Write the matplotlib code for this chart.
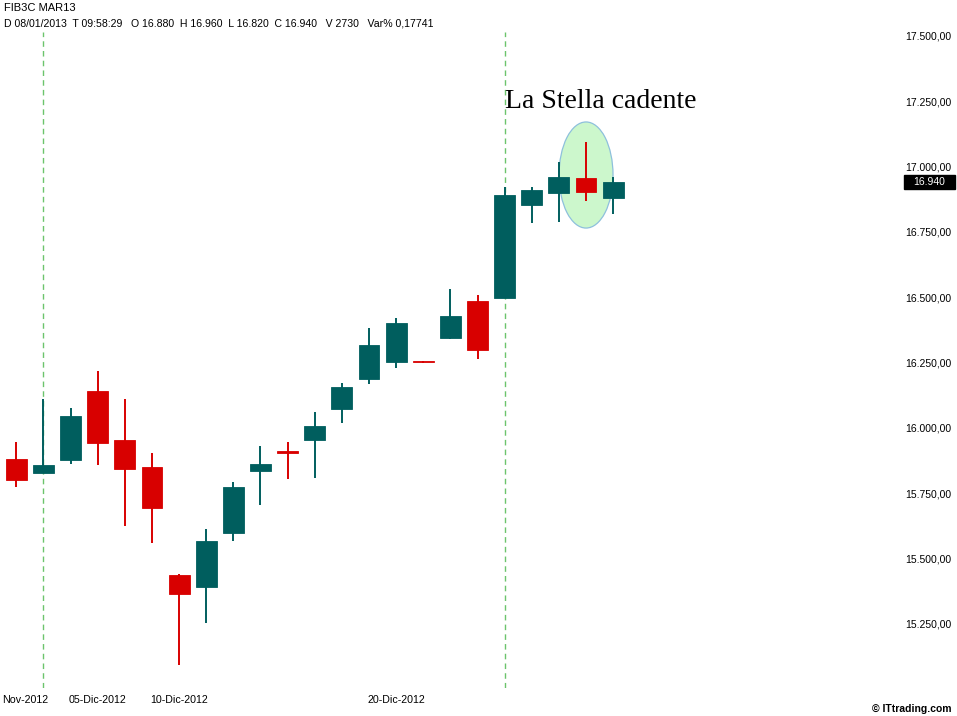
import matplotlib
matplotlib.use("Agg")
import matplotlib.pyplot as plt
from matplotlib.patches import Ellipse, Rectangle
import matplotlib.transforms as mtransforms

# ---- data ----
dates = ["30-Nov-2012", "03-Dic-2012", "04-Dic-2012", "05-Dic-2012", "06-Dic-2012",
         "07-Dic-2012", "10-Dic-2012", "11-Dic-2012", "12-Dic-2012", "13-Dic-2012",
         "14-Dic-2012", "17-Dic-2012", "18-Dic-2012", "19-Dic-2012", "20-Dic-2012",
         "21-Dic-2012", "27-Dic-2012", "28-Dic-2012", "02-Gen-2013", "03-Gen-2013",
         "04-Gen-2013", "07-Gen-2013", "08-Gen-2013"]
opens  = [15881, 15828, 15877, 16141, 15954, 15851, 15437, 15392, 15599, 15836,
          15912, 15955, 16074, 16188, 16253, 16258, 16345, 16486, 16498, 16854,
          16900, 16957, 16880]
highs  = [15946, 16111, 16076, 16218, 16111, 15904, 15440, 15613, 15794, 15932,
          15945, 16061, 16171, 16381, 16420, 16258, 16532, 16509, 16921, 16922,
          17018, 17095, 16960]
lows   = [15774, 15828, 15862, 15860, 15626, 15561, 15093, 15252, 15569, 15705,
          15806, 15807, 16020, 16169, 16231, 16248, 16342, 16265, 16498, 16785,
          16789, 16869, 16820]
closes = [15801, 15858, 16046, 15944, 15844, 15692, 15363, 15567, 15775, 15862,
          15906, 16007, 16157, 16317, 16402, 16254, 16428, 16299, 16891, 16911,
          16960, 16903, 16940]

ytick_vals = [15250, 15500, 15750, 16000, 16250, 16500, 16750, 17000, 17250, 17500]
ytick_labels = ["15.250,00", "15.500,00", "15.750,00", "16.000,00", "16.250,00",
                "16.500,00", "16.750,00", "17.000,00", "17.250,00", "17.500,00"]
xtick_idx = [0, 3, 6, 14]
xtick_labels = ["Nov-2012", "05-Dic-2012", "10-Dic-2012", "20-Dic-2012"]
month_start_idx = [1, 18]
star_idx = 21

header1 = "FIB3C MAR13"
header2 = "D 08/01/2013  T 09:58:29   O 16.880  H 16.960  L 16.820  C 16.940   V 2730   Var% 0,17741"
last_price_label = "16.940"
annotation = "La Stella cadente"
copyright_txt = "© ITtrading.com"

GREEN = "#005e5e"
RED = "#d80000"

W, H = 957, 716
fig = plt.figure(figsize=(W / 100, H / 100), dpi=100)
fig.patch.set_facecolor("white")

left_px, right_px, top_px, bottom_px = 0, 900, 32, 688
ax = fig.add_axes([left_px / W, 1 - bottom_px / H, (right_px - left_px) / W,
                   (bottom_px - top_px) / H])
ax.set_facecolor("white")
for s in ax.spines.values():
    s.set_visible(False)

x0_px, step_px = 16.3, 27.13
ax.set_xlim((left_px - x0_px) / step_px, (right_px - x0_px) / step_px)
ax.set_ylim(15004.8, 17515.3)
px_per_pt = (bottom_px - top_px) / (17515.3 - 15004.8)

# month separators
for i in month_start_idx:
    ax.axvline(i, color="#6cc46c", lw=1.0, ls=(0, (4, 3)), zorder=1)

# ellipse highlight
ell = Ellipse((star_idx, 16968), width=1.99, height=406, facecolor="#ccf7cc",
              edgecolor="#8ec0dc", lw=0.9, zorder=2)
ax.add_patch(ell)

# candles
body_w = 0.77
for i, (o, h, l, c) in enumerate(zip(opens, highs, lows, closes)):
    col = GREEN if c >= o else RED
    ax.vlines(i, l, h, color=col, lw=1.4, zorder=3)
    bottom = min(o, c)
    height = abs(c - o)
    ax.bar(i, height, width=body_w, bottom=bottom, color=col, edgecolor=col,
           lw=0.6, zorder=4)

# right axis labels
ax.yaxis.tick_right()
ax.set_yticks(ytick_vals)
ax.set_yticklabels(ytick_labels, fontsize=7.5, family="Liberation Sans")
ax.tick_params(axis="y", length=0, pad=3.8)

ax.set_xticks(xtick_idx)
ax.set_xticklabels(xtick_labels, fontsize=7.7, family="Liberation Sans")
ax.tick_params(axis="x", length=0, pad=5)
first = ax.get_xticklabels()[0]
first.set_ha("left")
first.set_transform(first.get_transform() +
                    mtransforms.Affine2D().translate(-14.5, 0))

# last price box
blend = mtransforms.blended_transform_factory(ax.transAxes, ax.transData)
box_w = 51 / (right_px - left_px)
box_h = 14 / px_per_pt
ax.add_patch(Rectangle((904 / (right_px - left_px), closes[-1] - box_h / 2),
                       box_w, box_h, transform=blend, facecolor="black",
                       edgecolor="black", clip_on=False, zorder=6))
ax.text(904 / (right_px - left_px) + box_w / 2, closes[-1], last_price_label,
        transform=blend, ha="center", va="center", fontsize=7.5,
        family="Liberation Sans", color="white", clip_on=False, zorder=7)

# annotation text
ax.text(18.0, 17224, annotation, fontsize=20, family="Liberation Serif",
        ha="left", va="baseline", color="black", zorder=5)

# header texts
fig.text(4 / W, 1 - 8 / H, header1, fontsize=8, family="Liberation Sans",
         ha="left", va="center")
fig.text(4 / W, 1 - 23 / H, header2, fontsize=7.6, family="Liberation Sans",
         ha="left", va="center")
fig.text(952 / W, 1 - 709 / H, copyright_txt, fontsize=7.5, family="Liberation Sans",
         weight="bold", ha="right", va="center")

fig.savefig("out.png", dpi=100, facecolor="white")
